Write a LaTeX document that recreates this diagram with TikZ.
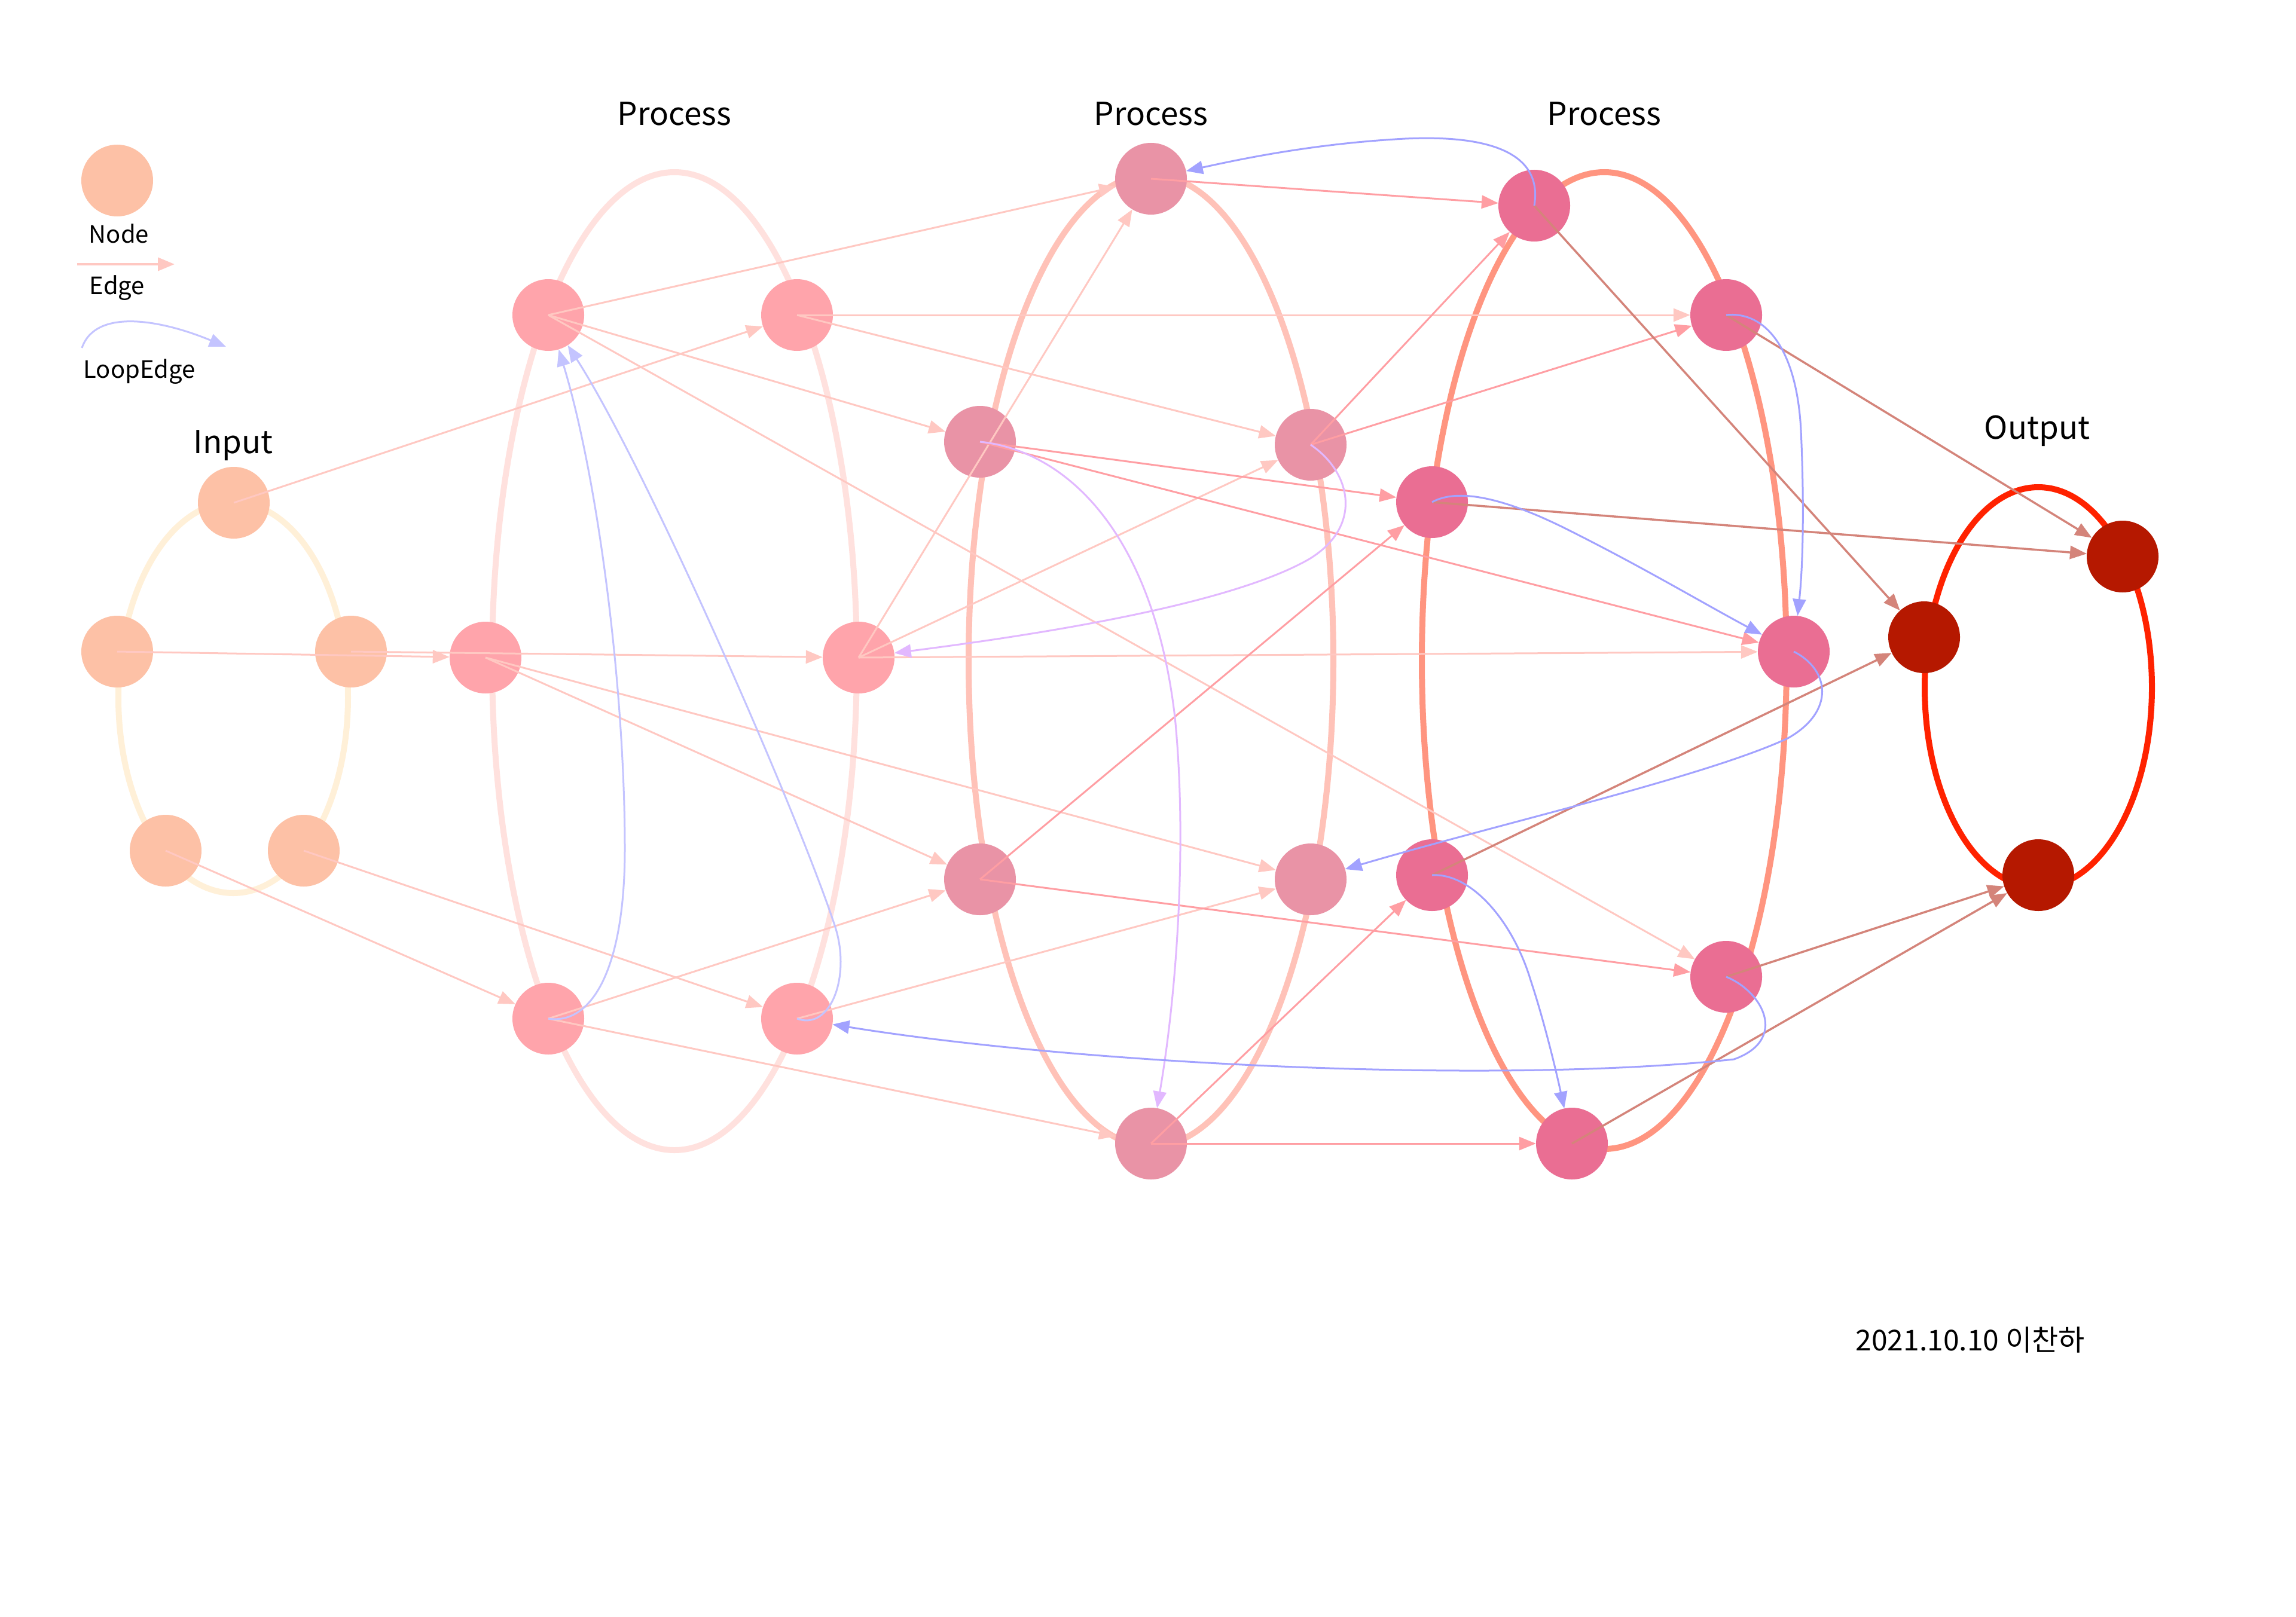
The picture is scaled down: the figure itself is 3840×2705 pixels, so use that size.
\documentclass[tikz,border=0pt]{standalone}
\usepackage{fontspec}
\setmainfont{Noto Sans CJK KR}
\usetikzlibrary{arrows.meta}
\definecolor{nIn}{HTML}{FDC1A6}
\definecolor{nP1}{HTML}{FFA4AB}
\definecolor{nP2}{HTML}{E993A6}
\definecolor{nP3}{HTML}{EA6E93}
\definecolor{nOut}{HTML}{B51800}
\definecolor{gIn}{HTML}{FFF0D8}
\definecolor{gP1}{HTML}{FFE1DE}
\definecolor{gP2}{HTML}{FFC2B8}
\definecolor{gP3}{HTML}{FF9580}
\definecolor{gOut}{HTML}{FF2200}
\definecolor{cE1}{HTML}{FFC8C2}
\definecolor{cE2}{HTML}{FF9EA3}
\definecolor{cE3}{HTML}{D4847A}
\definecolor{cL1}{HTML}{C4C4FF}
\definecolor{cL2}{HTML}{E2B8FF}
\definecolor{cL3}{HTML}{A2A2FF}
\begin{document}
\begin{tikzpicture}[x=1pt,y=-1pt,
  nd/.style={circle,inner sep=0pt,minimum size=120pt,draw=none},
  grp/.style={line width=10pt},
  edg/.style={line width=3pt,-{Triangle[length=28pt,width=22pt]}},
  e1/.style={edg,draw=cE1},
  e2/.style={edg,draw=cE2},
  e3/.style={edg,draw=cE3,line width=3.5pt},
  l1/.style={edg,draw=cL1},
  l2/.style={edg,draw=cL2},
  l3/.style={edg,draw=cL3},
  lbl/.style={font=\fontsize{53}{60}\selectfont,inner sep=0pt,text=black},
  small/.style={font=\fontsize{40}{46}\selectfont,inner sep=0pt,text=black}]
\useasboundingbox[fill=white] (0,0) rectangle (3840,2705);

% group outlines
\draw[grp,draw=gIn] (390,1167) ellipse [x radius=192pt, y radius=327pt];
\draw[grp,draw=gP1] (1128,1106) ellipse [x radius=305pt, y radius=818pt];
\draw[grp,draw=gP2] (1925,1105) ellipse [x radius=305pt, y radius=813pt];
\draw[grp,draw=gP3] (2683,1105) ellipse [x radius=305pt, y radius=817pt];
\draw[grp,draw=gOut] (3409,1150) ellipse [x radius=190pt, y radius=335pt];

% legend
\node[nd,fill=nIn] (LN) at (196,302) {};
\coordinate (LE1) at (129,442);
\coordinate (LE2) at (292,442);
\coordinate (LL1) at (137,582);
\coordinate (LL2) at (378,580);
\draw[edg,draw=cE1,line width=4pt] (LE1) -- (LE2);
\draw[l1] (LL1) .. controls (160,515) and (270,535) .. (LL2);

% input
\node[nd,fill=nIn] (I1) at (391,841) {};
\node[nd,fill=nIn] (I2) at (196,1090) {};
\node[nd,fill=nIn] (I3) at (587,1090) {};
\node[nd,fill=nIn] (I4) at (277,1423) {};
\node[nd,fill=nIn] (I5) at (508,1423) {};
% process 1
\node[nd,fill=nP1] (A1) at (917,527) {};
\node[nd,fill=nP1] (A2) at (1333,527) {};
\node[nd,fill=nP1] (A3) at (812,1100) {};
\node[nd,fill=nP1] (A4) at (1436,1100) {};
\node[nd,fill=nP1] (A5) at (917,1704) {};
\node[nd,fill=nP1] (A6) at (1333,1704) {};
% process 2
\node[nd,fill=nP2] (B1) at (1925,299) {};
\node[nd,fill=nP2] (B2) at (1639,739) {};
\node[nd,fill=nP2] (B3) at (2192,744) {};
\node[nd,fill=nP2] (B4) at (1639,1471) {};
\node[nd,fill=nP2] (B5) at (2192,1471) {};
\node[nd,fill=nP2] (B6) at (1925,1913) {};
% process 3
\node[nd,fill=nP3] (C1) at (2566,344) {};
\node[nd,fill=nP3] (C2) at (2887,527) {};
\node[nd,fill=nP3] (C3) at (2395,840) {};
\node[nd,fill=nP3] (C4) at (3000,1090) {};
\node[nd,fill=nP3] (C5) at (2395,1464) {};
\node[nd,fill=nP3] (C6) at (2887,1634) {};
\node[nd,fill=nP3] (C7) at (2629,1913) {};
% output
\node[nd,fill=nOut] (O1) at (3550,931) {};
\node[nd,fill=nOut] (O2) at (3218,1066) {};
\node[nd,fill=nOut] (O3) at (3409,1464) {};

% edges from input
\draw[e1] (I1.center) -- (A2);
\draw[e1] (I2.center) -- (A3);
\draw[e1] (I3.center) -- (A4);
\draw[e1] (I4.center) -- (A5);
\draw[e1] (I5.center) -- (A6);
% edges from process 1
\draw[e1] (A1.center) -- (B1);
\draw[e1] (A1.center) -- (B2);
\draw[e1] (A1.center) -- (C6);
\draw[e1] (A2.center) -- (C2);
\draw[e1] (A2.center) -- (B3);
\draw[e1] (A3.center) -- (B4);
\draw[e1] (A3.center) -- (B5);
\draw[e1] (A4.center) -- (B1);
\draw[e1] (A4.center) -- (B3);
\draw[e1] (A4.center) -- (C4);
\draw[e1] (A5.center) -- (B4);
\draw[e1] (A5.center) -- (B6);
\draw[e1] (A6.center) -- (B5);
% edges from process 2
\draw[e2] (B1.center) -- (C1);
\draw[e2] (B2.center) -- (C3);
\draw[e2] (B2.center) -- (C4);
\draw[e2] (B3.center) -- (C1);
\draw[e2] (B3.center) -- (C2);
\draw[e2] (B4.center) -- (C3);
\draw[e2] (B4.center) -- (C6);
\draw[e2] (B6.center) -- (C5);
\draw[e2] (B6.center) -- (C7);
% edges from process 3
\draw[e3] (C1.center) -- (O2);
\draw[e3] (C2.center) -- (O1);
\draw[e3] (C3.center) -- (O1);
\draw[e3] (C5.center) -- (O2);
\draw[e3] (C6.center) -- (O3);
\draw[e3] (C7.center) -- (O3);

% loop edges
\draw[l1] (A5.center) .. controls (990,1715) and (1045,1620) .. (1045,1420)
  .. controls (1045,1150) and (1000,800) .. (A1);
\draw[l1] (A6.center) .. controls (1390,1725) and (1425,1630) .. (1395,1545)
  .. controls (1330,1350) and (1080,780) .. (A1);
\draw[l2] (B2.center) .. controls (1790,755) and (1930,900) .. (1965,1200)
  .. controls (1985,1400) and (1970,1650) .. (B6);
\draw[l2] (B3.center) .. controls (2260,790) and (2280,880) .. (2190,935)
  .. controls (2060,1010) and (1750,1060) .. (A4);
\draw[l3] (C1.center) .. controls (2580,260) and (2500,225) .. (2350,232)
  .. controls (2200,240) and (2080,265) .. (B1);
\draw[l3] (C2.center) .. controls (2950,520) and (3005,580) .. (3012,720)
  .. controls (3018,850) and (3015,950) .. (C4);
\draw[l3] (C3.center) .. controls (2440,815) and (2520,835) .. (2620,885)
  .. controls (2750,950) and (2850,1010) .. (C4);
\draw[l3] (C4.center) .. controls (3060,1120) and (3070,1190) .. (2990,1235)
  .. controls (2850,1300) and (2500,1380) .. (B5);
\draw[l3] (C5.center) .. controls (2460,1460) and (2530,1540) .. (2560,1640)
  .. controls (2580,1700) and (2600,1780) .. (C7);
\draw[l3] (C6.center) .. controls (2950,1660) and (2990,1740) .. (2900,1772)
  .. controls (2500,1815) and (1800,1780) .. (A6);

% labels
\node[small] (tNode) at (199,391) {Node};
\node[small] (tEdge) at (196,482) {Edge};
\node[small] (tLoop) at (233,622) {LoopEdge};
\node[lbl] (tIn) at (390,745) {Input};
\node[lbl] (tP1) at (1128,190) {Process};
\node[lbl] (tP2) at (1925,190) {Process};
\node[lbl] (tP3) at (2683,190) {Process};
\node[lbl] (tOut) at (3407,721) {Output};
\node[lbl,font=\fontsize{48}{56}\selectfont] (tDate) at (3295,2242) {2021.10.10 이찬하};
\end{tikzpicture}
\end{document}
